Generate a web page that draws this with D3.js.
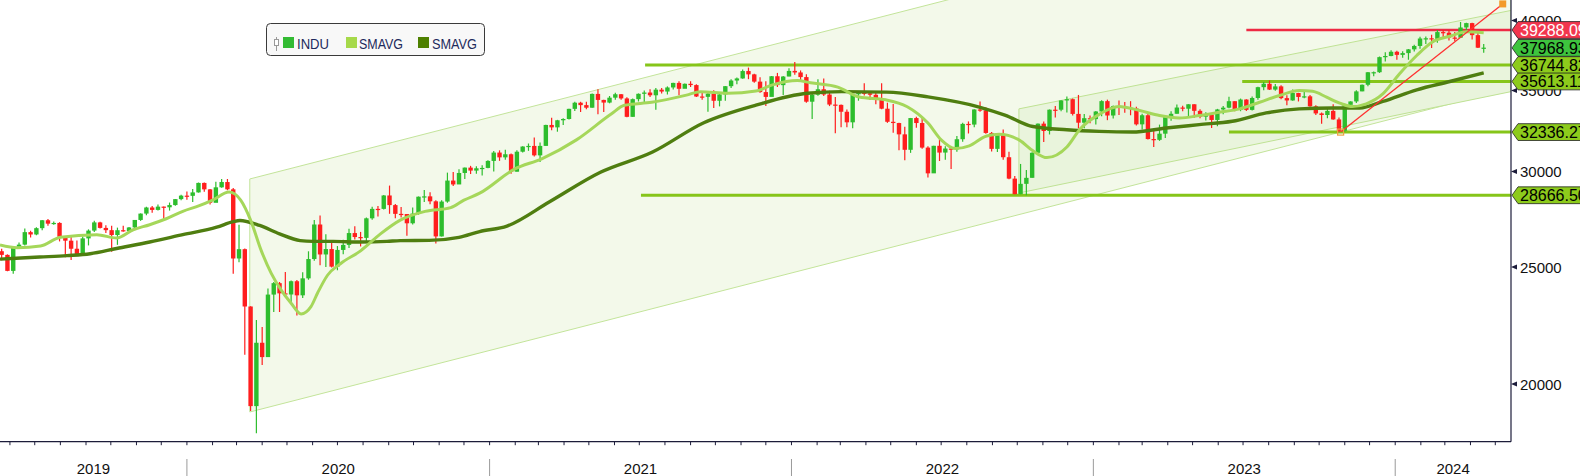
<!DOCTYPE html>
<html><head><meta charset="utf-8">
<script src="https://cdn.jsdelivr.net/npm/d3@7"></script>
<style>html,body{margin:0;padding:0;background:#fff;overflow:hidden}</style>
</head><body><svg id="c" width="1580" height="476"></svg>
<script>
// ---------- DATA (weekly bars, midweek dates) ----------
const startWeek = "2019-05-22";
const firstOpen = 25764;
const closes = [
25585,24815,25984,26090,26719,26600,26922,27332,27154,27192,
26485,26287,25886,25629,26403,26797,27220,26935,26820,26573,
26817,26770,26958,27347,27681,28005,27876,28051,28015,28135,
28455,28645,28634,28823,29348,28990,28256,29103,29398,28992,
25409,25865,23186,19174,21637,21053,23719,24242,23775,23724,
24331,23685,24465,25383,27111,25605,25871,25016,25827,26075,
26672,26470,26428,27433,27931,27930,28654,28133,27666,27657,
27174,27683,28587,28606,28336,26502,28323,29480,29263,29910,
30218,30046,30179,30200,30606,31098,30814,30997,29983,31148,
31458,31494,30932,31496,32779,32628,33073,33153,33801,34200,
34043,33875,34778,34382,34208,34529,34756,34480,33290,34433,
34786,34870,34687,35061,34935,35209,35515,35120,35456,35369,
34607,34584,34798,34326,34746,35295,35677,35820,36328,36100,
35602,34899,34580,35971,35365,35951,36338,36231,35912,34265,
34725,35089,34738,34079,34059,33615,32944,34754,34861,34818,
34721,34451,33811,32977,32899,32197,31262,33213,32900,31393,
29889,31501,31097,31338,31289,31899,32845,32803,33761,33707,
32283,31318,32152,30822,29590,28726,29297,29635,31083,32861,
32403,33748,33746,34347,34430,33477,32920,33204,33147,33631,
34303,33375,33978,33926,33869,33827,32817,33391,31910,31862,
32238,33274,33485,33886,33809,34098,33674,33301,33427,33093,
33763,33877,34299,33727,34408,33735,34509,35228,35459,35066,
35281,34500,34347,34838,34577,34618,33964,33508,33408,33670,
33127,32418,34061,34283,34947,35390,36245,36248,37305,37385,
37690,37466,37593,37863,38109,38654,38671,38628,39131,39087,
38723,38715,39476,39807,38904,37983,37986];
const highs = [
25880,25610,26000,26190,26910,26790,26970,27350,27400,27270,
27230,26500,26500,26300,26500,26860,27310,27250,27070,27050,
26950,27040,26980,27350,27690,28040,28090,28170,28060,28270,
28460,28700,28870,29010,29370,29370,29010,29410,29570,29570,
29060,27100,25900,23200,22600,22300,24000,24290,24300,24760,
24360,24390,24750,25760,27340,27580,26610,26290,26020,26330,
26890,27020,26730,27470,28050,28080,28680,29200,28190,28030,
27660,28000,28600,28960,28830,28400,28390,29930,29960,30120,
30230,30320,30300,30360,30640,31190,31230,31270,31040,31230,
31470,31640,32010,31700,32790,33230,33100,33200,33810,34260,
34260,34260,34810,35090,34400,34640,34850,34770,34560,34470,
34810,35000,35090,35170,35170,35280,35530,35630,35480,35630,
35420,34940,34950,35020,34790,35300,35770,35890,36440,36570,
36150,35900,35620,35990,36200,35990,36530,36952,36370,36110,
34880,35760,35820,34990,34580,34080,33760,34780,34870,35490,
34930,34900,35490,34200,34120,32910,32670,33220,33300,33280,
31480,31510,31940,31470,31360,32100,32910,33000,33770,34280,
33900,32340,32160,32500,31140,29740,30430,30080,31110,32870,
33000,33760,33990,34360,34600,34480,34710,33470,33380,33660,
34360,34400,34020,34340,34250,34300,33930,33490,33570,32530,
32800,33300,33640,34080,34000,34100,34100,33780,33580,33510,
33800,33980,34590,34300,34470,34420,34610,35250,35580,35680,
35450,35350,34690,35070,34850,34980,34700,34030,33560,33900,
34100,33250,34130,34290,35030,35400,36260,36300,37350,37650,
37790,37770,37730,37890,38200,38780,38800,38930,39280,39290,
39280,39130,39890,39830,39830,39130,38250];
const lows = [
25330,24800,24680,25900,26050,26450,26560,26810,27040,27100,
26250,25470,25340,25580,25560,26050,26730,26900,26670,25740,
26080,26740,26720,26840,27300,27600,27730,27850,27320,27840,
28100,28400,28420,28300,28810,28860,28170,28320,29080,28940,
24680,25230,21150,19000,18210,20740,21500,22940,22940,23700,
23360,22790,23560,24400,25300,25080,25000,24980,24840,25620,
25920,26350,26000,26240,27360,27530,27900,27670,27430,27470,
26540,27110,27620,28300,28180,26140,26500,28260,29170,29290,
29570,29850,29860,29770,30180,30000,30610,30670,29860,30000,
31100,31200,30870,30550,31500,32450,32360,32770,33120,33670,
33600,33770,33880,33460,33600,34160,34390,34390,33270,33290,
34280,34150,34570,33740,34800,34740,35080,34690,35250,35240,
34580,34400,33610,33850,33960,34320,35180,35420,35800,35770,
35530,34850,33990,34740,35240,34700,35970,36070,35600,34200,
33150,34650,34640,33980,32270,32630,32630,32580,34330,34670,
34370,34100,33780,32910,32290,31230,30640,31080,32600,31320,
29650,29950,30600,30680,30140,31140,31750,32250,32630,33620,
32240,31160,31130,30670,29550,28715,28720,28660,29640,31060,
31730,32190,33250,33640,33560,33380,32570,32570,32880,32810,
33320,33080,33190,33400,33550,33390,32750,32500,31880,31430,
31800,31980,33040,33480,33650,33300,33230,33200,33060,32590,
32700,33460,33840,33650,33650,33670,33700,34400,35030,35040,
34990,34420,34030,34330,34280,34490,33930,33400,32850,33200,
33100,32330,32330,33850,34180,34950,35290,35970,36200,37000,
37360,37120,37260,37120,37700,37900,38260,37960,38350,38720,
38510,38480,38720,39250,38590,37960,37610];

const sma50Dates = ["2019-05-20","2019-06-10","2019-07-08","2019-08-01","2019-09-14","2019-10-08","2019-10-28","2019-11-17","2019-12-07","2019-12-27",
"2020-01-16","2020-02-01","2020-02-21","2020-03-06","2020-03-18","2020-03-31","2020-04-12","2020-04-24","2020-05-06","2020-05-18","2020-05-30","2020-06-07","2020-06-19","2020-07-05","2020-07-29","2020-08-22","2020-09-15","2020-10-15","2020-11-15","2020-12-01","2020-12-20",
"2021-01-31","2021-03-05","2021-04-16","2021-05-28","2021-06-13","2021-07-16","2021-08-27","2021-09-13","2021-10-16","2021-11-19","2021-12-09",
"2022-01-08","2022-01-24","2022-02-26","2022-03-24","2022-04-25","2022-05-21","2022-06-15","2022-07-01","2022-07-18","2022-08-04","2022-08-25","2022-09-09","2022-10-04","2022-10-20","2022-11-06","2022-11-30","2022-12-16",
"2023-01-08","2023-02-01","2023-02-26","2023-03-22","2023-04-15","2023-05-09","2023-06-02","2023-06-27","2023-07-21","2023-08-14","2023-09-07","2023-09-23","2023-10-10","2023-10-26","2023-11-10","2023-11-27","2023-12-17",
"2024-01-06","2024-01-27","2024-02-15","2024-03-07","2024-03-27","2024-04-17"];
const sma50Values = [26070,25940,26020,26460,26590,26420,26840,27100,27410,27800,
28100,28400,28840,28400,27340,25780,24700,23920,23330,22860,23180,23790,24610,25170,25780,26630,27340,27800,28000,28400,28780,
30130,30730,31860,33470,34030,34230,34700,34930,34820,34970,35380,
35680,35520,35230,34570,34390,33940,32900,31860,31340,31500,32100,32200,31830,31200,30800,31430,32530,
33450,33950,33690,33370,33220,33370,33580,33800,34230,34670,35000,34950,34560,34170,33950,34130,34780,
36120,37420,38400,38820,39150,39080];

const sma200Dates = ["2019-05-20","2019-07-07","2019-08-09","2019-09-06","2019-10-08","2019-11-17","2019-12-27",
"2020-02-06","2020-02-26","2020-03-05","2020-03-29","2020-04-22","2020-05-17","2020-06-01","2020-06-26","2020-07-28","2020-08-30","2020-09-15","2020-10-20","2020-11-25","2020-12-20",
"2021-01-22","2021-03-14","2021-05-15","2021-07-17","2021-09-17","2021-11-19",
"2022-01-20","2022-03-03","2022-04-26","2022-06-15","2022-08-16","2022-09-16","2022-10-20","2022-11-30",
"2023-01-08","2023-02-17","2023-03-30","2023-05-09","2023-06-18","2023-07-29","2023-09-07","2023-10-17","2023-11-19","2023-12-17",
"2024-01-27","2024-03-07","2024-04-17"];
const sma200Values = [25380,25480,25550,25640,25900,26220,26590,
26970,27260,27320,27060,26630,26290,26250,26250,26220,26250,26290,26300,26450,26750,
27030,28300,29950,31130,32920,34040,
34820,34930,34900,34580,33920,33400,32680,32480,
32380,32340,32590,32800,33010,33540,33800,33860,33860,34280,
35050,35610,36200];

// channels (start date / end date, upper & lower values)
const channel1Dates = ["2020-03-17","2024-05-20"];
const channel1Upper = [29570, 54820];
const channel1Lower = [18960, 35150];
const channel2Dates = ["2022-10-03","2024-05-20"];
const channel2Upper = [33800, 40780];
const channel2Lower = [28790, 34930];

// horizontal levels
const levelValues = [39288.09, 36744.82, 35613.11, 32336.27, 28666.50];
const levelStarts = ["2023-07-05","2021-07-08","2023-06-30","2023-06-14","2021-07-03"];
const levelColors = ["#ee2a44","#86c51a","#86c51a","#86c51a","#86c51a"];

// right-hand value tags
const tagValues = [39288.09, 37968.93, 36744.82, 35613.11, 32336.27, 28666.50];
const tagFill = ["#f2364e","#3ec43e","#8dcb1c","#8dcb1c","#8dcb1c","#8dcb1c"];
const tagText = ["#ffffff","#000000","#000000","#000000","#000000","#000000"];

// trend line
const trendDates = ["2023-10-27","2024-05-10"];
const trendValues = [32336.27, 41290];

const yTicks = [20000,25000,30000,35000,40000];
const legendLabels = ["INDU","SMAVG","SMAVG"];
const legendColors = ["#33bb33","#a6d94a","#4e8000"];

// ---------- CHART ----------
const parse = d3.utcParse("%Y-%m-%d");
const PR = 1511, PB = 441.7;
const svg = d3.select("#c");
const font = "'Liberation Sans', Arial, sans-serif";
svg.append("rect").attr("width",1580).attr("height",476).attr("fill","#fff");

const x = d3.scaleUtc().domain([Date.UTC(2019,4,20), Date.UTC(2024,4,20)]).range([0, PR]);
const y = d3.scaleLog().domain([17916, 41600]).range([PB, 0]);

svg.append("defs").append("clipPath").attr("id","plot")
  .append("rect").attr("x",0).attr("y",0).attr("width",PR).attr("height",PB);
const g = svg.append("g").attr("clip-path","url(#plot)");

function channel(dates, up, lo, fill, stroke){
  const d0 = parse(dates[0]), d1 = parse(dates[1]);
  const pts = [[x(d0),y(up[0])],[x(d1),y(up[1])],[x(d1),y(lo[1])],[x(d0),y(lo[0])]];
  g.append("path").attr("d","M"+pts.map(p=>p.join(",")).join("L")+"Z")
    .attr("fill",fill).attr("stroke",stroke).attr("stroke-width",1);
}
channel(channel1Dates, channel1Upper, channel1Lower, "#f3f9ea", "#c3e49a");
channel(channel2Dates, channel2Upper, channel2Lower, "#e9f4dc", "#bfe294");

// levels
levelValues.forEach((v,i)=>{
  g.append("line").attr("x1",x(parse(levelStarts[i]))).attr("x2",PR)
   .attr("y1",y(v)).attr("y2",y(v)).attr("stroke",levelColors[i]).attr("stroke-width",i===0?2.6:3);
});

// candles
const bars = closes.map((c,i)=>({date:d3.utcDay.offset(parse(startWeek),7*i), open:i?closes[i-1]:firstOpen, high:highs[i], low:lows[i], close:c}));
const cg = g.append("g");
bars.forEach(b=>{
  const col = b.close >= b.open ? "#2dbd2d" : "#ff1e1e";
  const cx = x(b.date);
  cg.append("line").attr("x1",cx).attr("x2",cx).attr("y1",y(b.high)).attr("y2",y(b.low))
    .attr("stroke",col).attr("stroke-width",1.2);
  const y0 = y(Math.max(b.open,b.close)), y1 = y(Math.min(b.open,b.close));
  cg.append("rect").attr("x",cx-2.2).attr("width",4.4).attr("y",y0).attr("height",Math.max(1.2,y1-y0)).attr("fill",col);
});

// moving averages
const line = d3.line().x(d=>x(d[0])).y(d=>y(d[1])).curve(d3.curveMonotoneX);
g.append("path").attr("d",line(sma200Dates.map((d,i)=>[parse(d),sma200Values[i]])))
  .attr("fill","none").attr("stroke","#4f7e10").attr("stroke-width",3.4);
g.append("path").attr("d",line(sma50Dates.map((d,i)=>[parse(d),sma50Values[i]])))
  .attr("fill","none").attr("stroke","#a5d75a").attr("stroke-width",3);

// trend line
const t0=[x(parse(trendDates[0])),y(trendValues[0])], t1=[x(parse(trendDates[1])),y(trendValues[1])];
svg.append("line").attr("x1",t0[0]).attr("y1",t0[1]).attr("x2",t1[0]).attr("y2",t1[1])
  .attr("stroke","#ff3030").attr("stroke-width",1.3);
svg.append("rect").attr("x",t0[0]-3).attr("y",t0[1]-3).attr("width",6).attr("height",6)
  .attr("fill","none").attr("stroke","#f0a040").attr("stroke-width",1.2);
svg.append("rect").attr("x",t1[0]-3.5).attr("y",t1[1]-3.5).attr("width",7).attr("height",7)
  .attr("fill","#f39a2b");

// axes
svg.append("line").attr("x1",0).attr("x2",PR).attr("y1",PB).attr("y2",PB).attr("stroke","#1c1c3a").attr("stroke-width",1.2);
svg.append("line").attr("x1",PR).attr("x2",PR).attr("y1",0).attr("y2",PB).attr("stroke","#1c1c3a").attr("stroke-width",1.2);

const [dStart,dEnd] = x.domain();
d3.utcMonth.range(dStart,dEnd).forEach(m=>{
  svg.append("line").attr("x1",x(m)).attr("x2",x(m)).attr("y1",PB).attr("y2",PB+3.5).attr("stroke","#1c1c3a");
});
const years = d3.utcYear.range(dStart,dEnd);
years.forEach(yr=>{
  svg.append("line").attr("x1",x(yr)).attr("x2",x(yr)).attr("y1",459).attr("y2",476).attr("stroke","#9a9a9a");
});
const bounds = [0, ...years.map(x), PR];
const yearNames = [2019, ...years.map(d=>d.getUTCFullYear())];
yearNames.forEach((nm,i)=>{
  svg.append("text").attr("x",(bounds[i]+bounds[i+1])/2).attr("y",473.5)
    .attr("text-anchor","middle").attr("font-family",font).attr("font-size",15).attr("fill","#111").text(nm);
});

yTicks.forEach(t=>{
  const yy = y(t);
  svg.append("path").attr("d",`M${PR},${yy}L${PR+6},${yy-2.5}L${PR+6},${yy+2.5}Z`).attr("fill","#1c1c3a");
  svg.append("text").attr("x",PR+9).attr("y",yy).attr("dominant-baseline","central")
    .attr("font-family",font).attr("font-size",15).attr("fill","#111").text(t);
});

// value tags
tagValues.forEach((v,i)=>{
  const yc = y(v), h = 8.4;
  svg.append("path").attr("d",`M${PR+1},${yc}L${PR+7},${yc-h}L1590,${yc-h}L1590,${yc+h}L${PR+7},${yc+h}Z`)
    .attr("fill",tagFill[i]).attr("stroke","#222").attr("stroke-width",0.8);
  svg.append("text").attr("x",PR+9).attr("y",yc+0.5).attr("dominant-baseline","central")
    .attr("font-family",font).attr("font-size",16).attr("fill",tagText[i]).text(v.toFixed(2));
});

// legend
const lg = svg.append("g");
lg.append("rect").attr("x",266.5).attr("y",23.5).attr("width",218).attr("height",32).attr("rx",4)
  .attr("fill","#f8f8f8").attr("stroke","#3a3a3a").attr("stroke-width",1);
lg.append("line").attr("x1",276.5).attr("x2",276.5).attr("y1",37).attr("y2",51).attr("stroke","#999");
lg.append("rect").attr("x",274.5).attr("y",39.5).attr("width",4).attr("height",6).attr("fill","#fff").attr("stroke","#999");
const lx = [283, 346, 418], tx = [297, 359, 432], tw = [32, 44, 45];
legendLabels.forEach((l,i)=>{
  lg.append("rect").attr("x",lx[i]).attr("y",37).attr("width",11).attr("height",11).attr("fill",legendColors[i]);
  lg.append("text").attr("x",tx[i]).attr("y",48.5).attr("font-family",font).attr("font-size",14)
    .attr("textLength",tw[i]).attr("lengthAdjust","spacingAndGlyphs").attr("fill","#1d2a5c").text(l);
});
</script></body></html>
